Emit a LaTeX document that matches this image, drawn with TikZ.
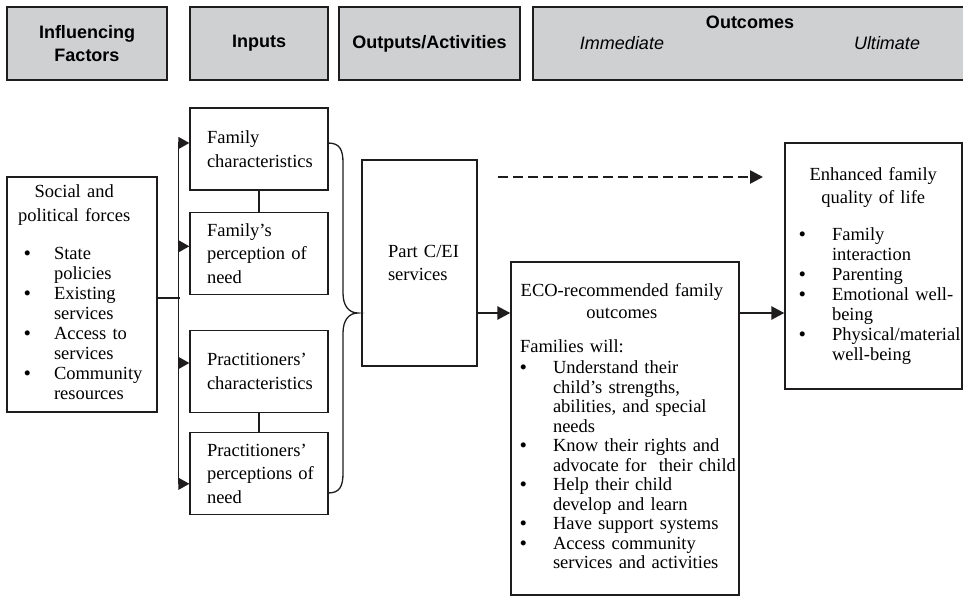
\documentclass[tikz,border=0pt]{standalone}
\usepackage{fontspec}
\setmainfont{Liberation Serif}
\setsansfont{Liberation Sans}
\usepackage{tikz}
\usetikzlibrary{arrows.meta,positioning}
\definecolor{headgray}{RGB}{207,208,210}
\definecolor{inkgray}{RGB}{30,28,29}
\newcommand{\bigbul}{\textbf{\textbullet}}

\begin{document}
\begin{tikzpicture}[x=1pt,y=-1pt,>={Triangle[length=11pt,width=12pt]},
      draw=inkgray,line width=1.3pt,node distance=21pt,
      head/.style={draw=inkgray,fill=headgray,line width=1.5pt,minimum height=73pt,inner sep=0pt,
        align=center,font=\sffamily\bfseries\fontsize{18}{23}\selectfont},
      headtxt/.style={inner sep=0pt,font=\sffamily\fontsize{18}{20}\selectfont},
      plain/.style={draw=inkgray,line width=1.3pt,inner ysep=0pt,align=left,
        font=\fontsize{18.5}{20}\selectfont},
      inp/.style={plain,minimum width=138pt,minimum height=82pt,text width=104pt,inner xsep=17pt,
        font=\fontsize{18.5}{23.5}\selectfont},
      thickarrow/.style={->,line width=2.6pt,>={Triangle[length=13pt,width=13pt]}}]
			\useasboundingbox (0,0) rectangle (963,600);
			\node[head,minimum width=160pt] (hinf) at (87,43.5) {Influencing\\Factors};
			\node[head,minimum width=138pt] (hin) at (259,43.5) {Inputs};
			\node[head,minimum width=181pt] (hout) at (429.5,43.5) {Outputs/Activities};
			\node[head,minimum width=467pt] (hoc) at (766.5,43.5) {};
			\node[headtxt,font=\sffamily\bfseries\fontsize{18}{20}\selectfont] (lout) at (750,22) {Outcomes};
			\node[headtxt] (limm) at (622,43) {\itshape Immediate};
			\node[headtxt] (lult) at (887,43) {\itshape Ultimate};

			\node[plain,minimum width=150pt,minimum height=235pt,text width=116pt,inner xsep=17pt] (social) at (82,294.5)
				{\begin{tabular}{@{}p{30pt}@{}l@{}}
				\multicolumn{2}{@{}c@{}}{\hspace*{-18pt}Social and}\\[4pt]
				\multicolumn{2}{@{}c@{}}{\hspace*{-18pt}political forces}\\[18pt]
				\bigbul & State\\
				 & policies\\
				\bigbul & Existing\\
				 & services\\
				\bigbul & Access to\\
				 & services\\
				\bigbul & Community\\
				 & resources
				\end{tabular}};

			\node[inp] (fchar) at (259,149) {Family\\characteristics};
			\node[inp,below=of fchar] (fneed) {Family's\\perception~of\\need};
			\node[inp] (pchar) at (259,371.5) {Practitioners'\\characteristics};
			\node[inp,below=19pt of pchar] (pneed) {Practitioners'\\perceptions~of\\need};

			\node[plain,minimum width=115pt,minimum height=206pt,text width=63pt,inner xsep=26pt,
				font=\fontsize{18.5}{23}\selectfont] (partc) at (419.5,263) {Part~C/EI\\services};

			\node[plain,minimum width=228pt,minimum height=333pt,text width=210pt,inner xsep=9pt,
				font=\fontsize{18.5}{19.5}\selectfont] (eco) at (625,428.5)
				{\begin{tabular}{@{}p{33pt}@{}l@{}}
				\multicolumn{2}{@{}c@{}}{\hspace*{-12pt}ECO-recommended family}\\[3pt]
				\multicolumn{2}{@{}c@{}}{\hspace*{-12pt}outcomes}\\[14pt]
				\multicolumn{2}{@{}l@{}}{Families will:}\\[2pt]
				\bigbul & Understand their\\
				 & child's strengths,\\
				 & abilities, and special\\
				 & needs\\
				\bigbul & Know their rights and\\
				 & advocate for\ \ their child\\
				\bigbul & Help their child\\
				 & develop and learn\\
				\bigbul & Have support systems\\
				\bigbul & Access community\\
				 & services and activities
				\end{tabular}};

			\node[plain,minimum width=177pt,minimum height=246pt,text width=149pt,inner xsep=14pt] (efql) at (873.5,266)
				{\begin{tabular}{@{}p{33pt}@{}l@{}}
				\multicolumn{2}{@{}c@{}}{\hspace*{-13pt}Enhanced family}\\[3pt]
				\multicolumn{2}{@{}c@{}}{\hspace*{-13pt}quality of life}\\[17pt]
				\bigbul & Family\\
				 & interaction\\
				\bigbul & Parenting\\
				\bigbul & Emotional well-\\
				 & being\\
				\bigbul & Physical/material\\
				 & well-being
				\end{tabular}};

			\coordinate (dA) at (498,177);
			\coordinate (dB) at (763,177);
			\coordinate (axis) at (0,313);

			\draw ([xshift=-11pt,yshift=6pt]fchar.west) -- ([xshift=-11pt,yshift=-10pt]pneed.west);
			\draw ([yshift=-3.5pt]social.east) -- ++(22,0);
			\foreach \b/\s in {fchar/6,fneed/7,pchar/8.5,pneed/-10}
				\draw[->] ([xshift=-11pt,yshift=\s pt]\b.west) -- ([yshift=\s pt]\b.west);
			\draw (fchar) -- (fneed);
			\draw (pchar) -- (pneed);
			\draw (328,143) .. controls (340,143) and (343,150) .. (343,163) -- (343,293)
				.. controls (343,306) and (349,313) .. (358,313)
				.. controls (349,313) and (343,320) .. (343,333) -- (343,473)
				.. controls (343,486) and (340,493) .. (328,493);
			\draw[thickarrow] (partc.east |- axis) -- (eco.west |- axis);
			\draw[thickarrow] (eco.east |- axis) -- (efql.west |- axis);
			\draw[thickarrow,dash pattern=on 10pt off 5pt] (dA) -- (dB);
		\end{tikzpicture}
\end{document}
